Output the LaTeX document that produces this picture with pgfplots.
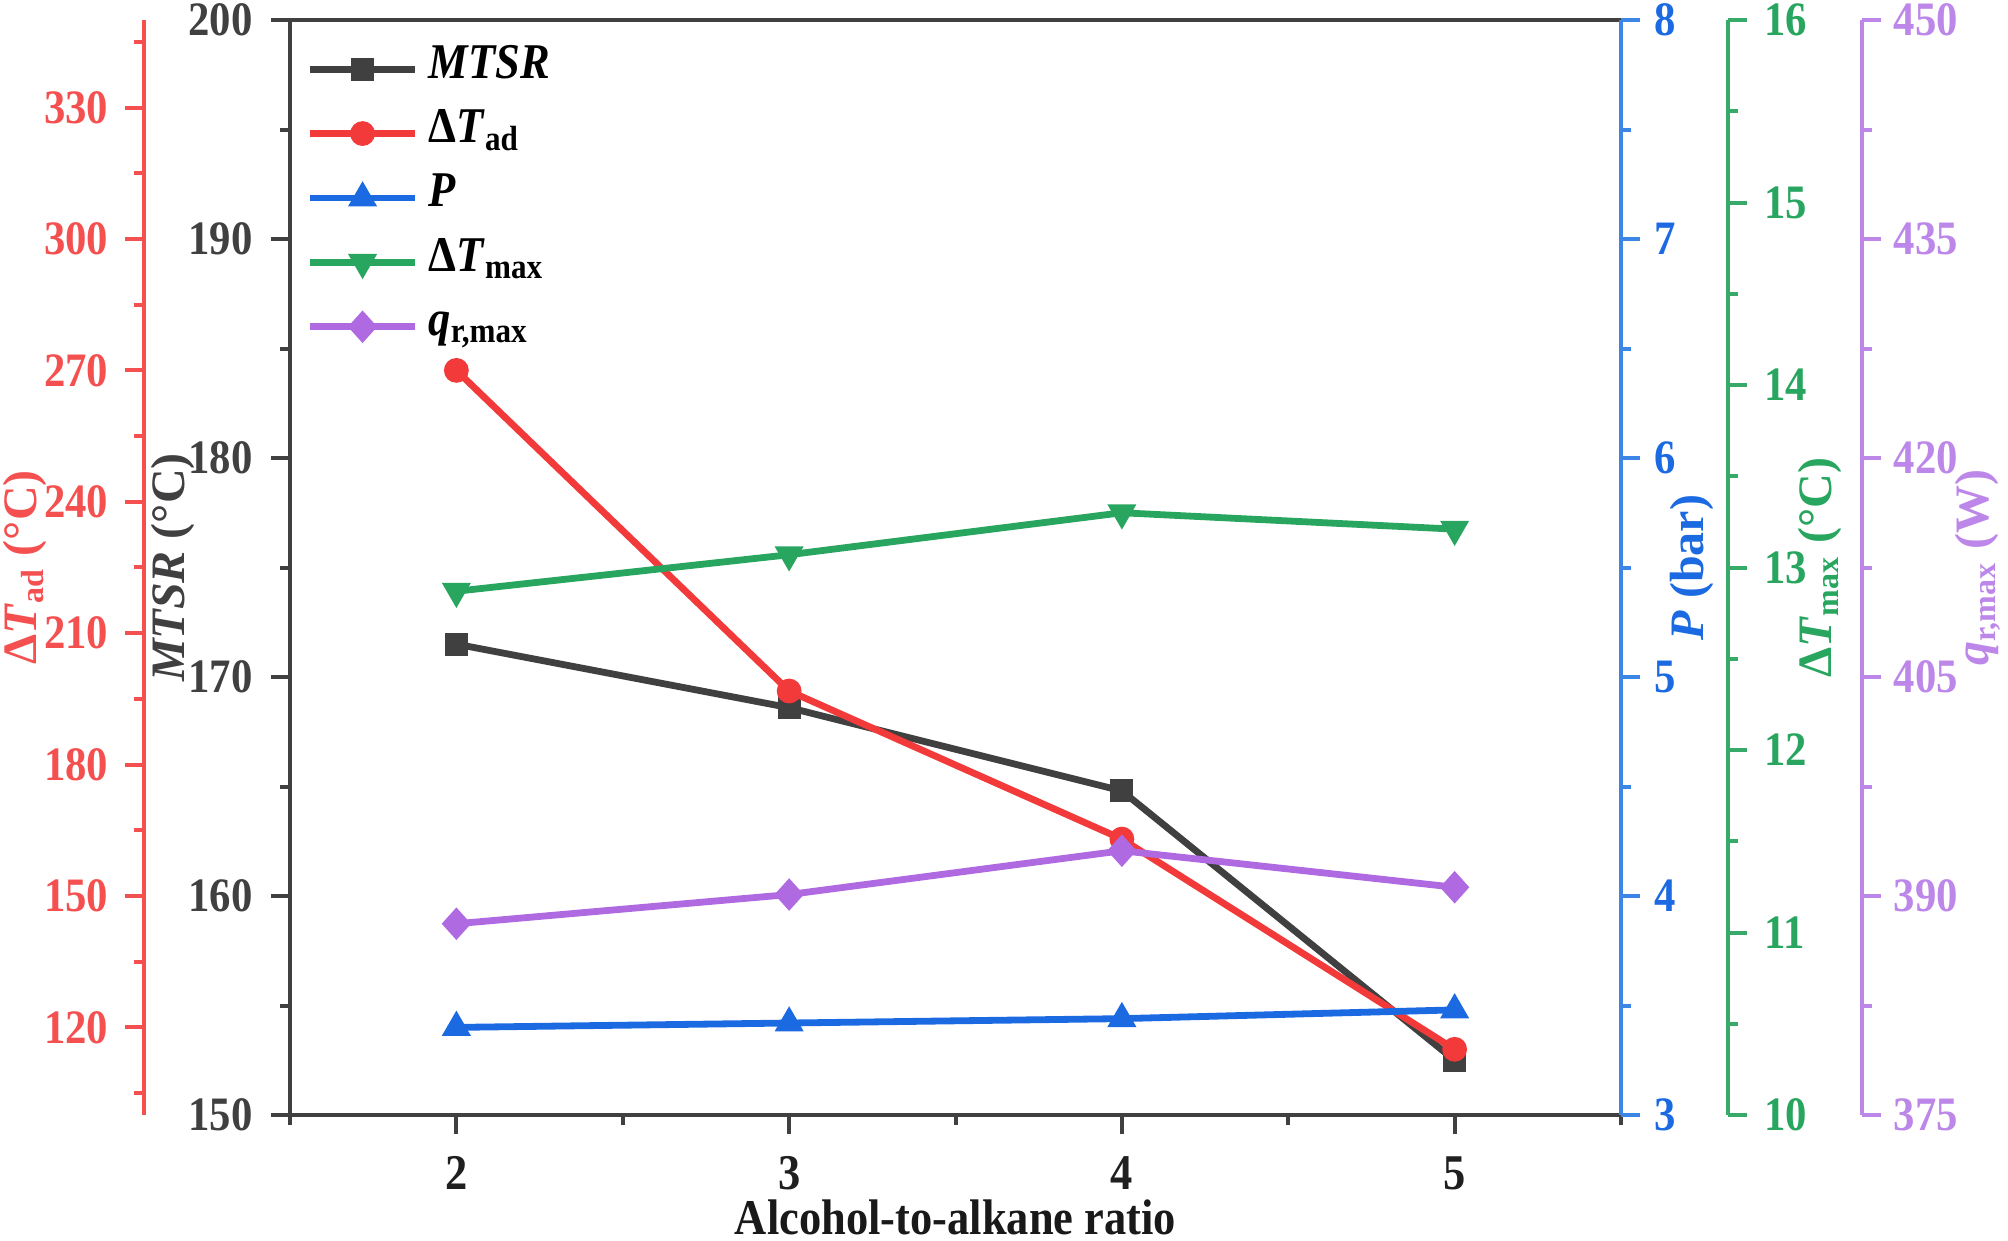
\documentclass[border=0pt]{standalone}
\usepackage{fontspec}
\setmainfont{Liberation Serif}
\newfontfamily\nfont{Liberation Serif}[FakeStretch=0.89]
\usepackage{pgfplots}
\pgfplotsset{compat=1.18}

\definecolor{cblk}{RGB}{64,64,64}
\definecolor{cred}{RGB}{242,58,58}
\definecolor{credax}{RGB}{245,80,80}
\definecolor{cblue}{RGB}{28,106,226}
\definecolor{cblueax}{RGB}{60,135,230}
\definecolor{cgreen}{RGB}{40,165,95}
\definecolor{cgreenax}{RGB}{55,170,105}
\definecolor{cpurp}{RGB}{176,106,225}
\definecolor{cpurpax}{RGB}{188,135,232}

\pgfplotsset{
  base/.style={
    scale only axis, height=273.75pt, clip=false,
    anchor=south west,
    tick align=outside,
    major tick length=4.75pt, minor tick length=2.5pt,
    /pgf/number format/assume math mode=true,
    ticklabel style={font=\nfont\bfseries\fontsize{12}{14}\selectfont, inner sep=0pt},
  },
  ylab/.style 2 args={every axis y label/.style={at={(axis description cs:#1,0.5)}, rotate=90, anchor=center,
      font=\bfseries\fontsize{12}{14}\selectfont, text=#2}},
}

\begin{document}
\begin{tikzpicture}
\path[use as bounding box] (0,0) rectangle (502pt,310pt);

% main MTSR axis
\begin{axis}[base, at={(72.5pt,31.25pt)}, width=332.75pt,
  xmin=1.5, xmax=5.5, ymin=150, ymax=200,
  xtick={2,3,4,5}, minor xtick={1.5,2.5,3.5,4.5,5.5},
  ytick={150,160,170,180,190,200}, minor ytick={155,165,175,185,195},
  xtick pos=left, ytick pos=left,
  axis line style={cblk, line width=1pt},
  tick style={cblk, line width=1pt},
  xticklabel style={text=black!88, anchor=north, font=\nfont\bfseries\fontsize{12.5}{14}\selectfont}, xticklabel shift=5.5pt,
  yticklabel style={text=cblk, anchor=east}, yticklabel shift=4.4pt,
  xlabel={Alcohol-to-alkane ratio},
  every axis x label/.style={at={(axis description cs:0.5,-0.0935)}, anchor=center,
      font=\nfont\bfseries\fontsize{12.5}{15}\selectfont, text=black!90},
  ylabel={\textit{MTSR} (°C)}, ylab={-0.0879}{cblk},
  legend style={at={(axis description cs:0.012,0.9805)}, anchor=north west, draw=none, fill=none,
      inner sep=0pt, row sep=2.6pt, font=\nfont\bfseries\fontsize{12.5}{15}\selectfont,
      nodes={inner xsep=2.5pt, inner ysep=0pt, text height=9pt, text depth=4.5pt}},
  legend cell align=left,
  legend image code/.code={\draw[mark repeat=2,mark phase=2] plot coordinates {(0pt,0pt) (13.1pt,0pt) (26.25pt,0pt)};},
]
\addplot[cblk, line width=1.7pt, mark=square*, mark size=2.6pt, mark options={line width=0.5pt}]
  coordinates {(2,171.5) (3,168.6) (4,164.8) (5,152.5)};
\addlegendentry{\textit{MTSR}}
\addlegendimage{cred, line width=1.7pt, mark=*, mark size=2.85pt, mark options={line width=0.5pt}}
\addlegendentry{Δ\textit{T}\textsubscript{ad}}
\addlegendimage{cblue, line width=1.7pt, mark=triangle*, mark size=3.7pt, mark options={line width=0.5pt}}
\addlegendentry{\textit{P}}
\addlegendimage{cgreen, line width=1.7pt, mark=triangle*, mark size=3.7pt, mark options={line width=0.5pt, rotate=180}}
\addlegendentry{Δ\textit{T}\textsubscript{max}}
\addlegendimage{cpurp, line width=1.7pt, mark=diamond*, mark size=3.7pt, mark options={line width=0.5pt, xscale=1.2}}
\addlegendentry{\textit{q}\textsubscript{r,max}}
\end{axis}

% red Delta T_ad axis (left, offset)
\begin{axis}[base, at={(35.9pt,31.25pt)}, width=369.35pt,
  xmin=1.06002, xmax=5.5, ymin=100, ymax=350,
  hide x axis, axis y line*=left,
  ytick={120,150,180,210,240,270,300,330}, minor ytick={105,135,165,195,225,255,285,315,345},
  y axis line style={credax, line width=1pt},
  ytick style={credax, line width=1pt},
  yticklabel style={text=credax, anchor=east}, yticklabel shift=3.9pt,
  ylabel={Δ\textit{T}\textsubscript{ad} (°C)}, ylab={-0.0805}{credax},
]
\addplot[cred, line width=1.7pt, mark=*, mark size=2.85pt, mark options={line width=0.5pt}]
  coordinates {(2,270) (3,196.8) (4,163) (5,115)};
\end{axis}

% blue P axis (right)
\begin{axis}[base, at={(72.5pt,31.25pt)}, width=332.75pt,
  xmin=1.5, xmax=5.5, ymin=3, ymax=8,
  hide x axis, axis y line*=right,
  ytick={3,4,5,6,7,8}, minor ytick={3.5,4.5,5.5,6.5,7.5},
  y axis line style={cblueax, line width=1pt},
  ytick style={cblueax, line width=1pt},
  yticklabel style={text=cblue, anchor=west}, yticklabel shift=3.3pt,
  ylabel={\textit{P} (bar)}, ylab={1.0533}{cblue},
]
\addplot[cblue, line width=1.7pt, mark=triangle*, mark size=3.7pt, mark options={line width=0.5pt}]
  coordinates {(2,3.40) (3,3.42) (4,3.44) (5,3.48)};
\end{axis}

% green Delta T_max axis
\begin{axis}[base, at={(72.5pt,31.25pt)}, width=359.6pt,
  xmin=1.5, xmax=5.8228, ymin=10, ymax=16,
  hide x axis, axis y line*=right,
  ytick={10,11,12,13,14,15,16}, minor ytick={10.5,11.5,12.5,13.5,14.5,15.5},
  y axis line style={cgreenax, line width=1pt},
  ytick style={cgreenax, line width=1pt},
  yticklabel style={text=cgreen, anchor=west}, yticklabel shift=4pt,
  ylabel={Δ\textit{T}\textsubscript{max} (°C)}, ylab={1.0637}{cgreen},
]
\addplot[cgreen, line width=1.7pt, mark=triangle*, mark size=3.7pt, mark options={line width=0.5pt, rotate=180}]
  coordinates {(2,12.87) (3,13.07) (4,13.30) (5,13.21)};
\end{axis}

% purple q axis
\begin{axis}[base, at={(72.5pt,31.25pt)}, width=392.9pt,
  xmin=1.5, xmax=6.2231, ymin=375, ymax=450,
  hide x axis, axis y line*=right,
  ytick={375,390,405,420,435,450}, minor ytick={382.5,397.5,412.5,427.5,442.5},
  y axis line style={cpurpax, line width=1pt},
  ytick style={cpurpax, line width=1pt},
  yticklabel style={text=cpurpax, anchor=west}, yticklabel shift=3.1pt,
  ylabel={\textit{q}\textsubscript{r,max} (W)}, ylab={1.0741}{cpurpax},
]
\addplot[cpurp, line width=1.7pt, mark=diamond*, mark size=3.7pt, mark options={line width=0.5pt, xscale=1.2}]
  coordinates {(2,388.1) (3,390.1) (4,393.1) (5,390.6)};
\end{axis}
\end{tikzpicture}
\end{document}
